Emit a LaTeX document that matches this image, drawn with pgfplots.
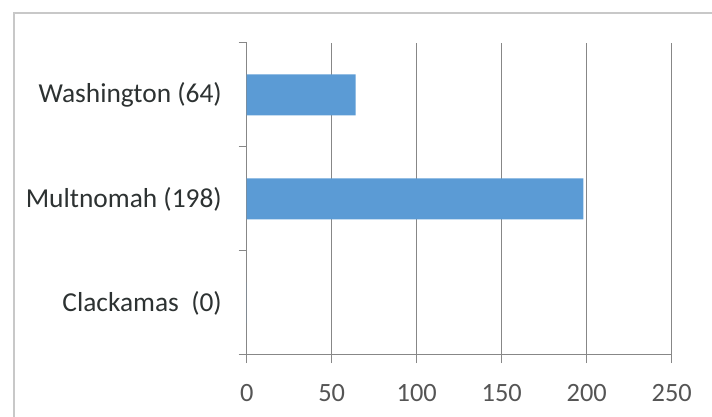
\documentclass[border=0pt]{standalone}
\usepackage{pgfplots}
\pgfplotsset{compat=1.18}
\usepackage{fontspec}
\setmainfont{Carlito}
\definecolor{barblue}{RGB}{91,155,213}
\definecolor{gridgray}{RGB}{135,135,135}
\definecolor{labeltext}{RGB}{45,50,50}
\definecolor{ticktext}{RGB}{85,85,85}
\definecolor{framegray}{RGB}{200,200,200}
\begin{document}
\begin{tikzpicture}
\useasboundingbox (0,0) rectangle (712bp,417bp);
% chart frame (runs off the right and bottom of the scan)
\draw[framegray, line width=2bp] (14bp,-5bp) -- (14bp,404bp) -- (720bp,404bp);
\begin{axis}[
    at={(246.7bp,62bp)}, anchor=south west,
    scale only axis, width=425bp, height=312bp,
    xbar, bar width=41bp,
    xmin=0, xmax=250, ymin=-0.5, ymax=2.5,
    xtick={0,50,...,250},
    ytick={0,1,2},
    yticklabels={Clackamas\ \ (0), Multnomah (198), Washington (64)},
    minor ytick={-0.5,0.5,1.5,2.5},
    axis x line*=bottom, axis y line*=left,
    axis line style={-, gridgray, line width=1bp},
    tick align=outside,
    major tick length=8bp, minor tick length=8bp,
    major x tick style={gridgray, line width=1bp},
    major y tick style={draw=none},
    minor y tick style={gridgray, line width=1bp},
    xmajorgrids, grid style={gridgray, line width=1bp},
    /pgf/number format/assume math mode=true,
    xticklabel style={font=\fontsize{26.5}{30}\selectfont, text=ticktext, inner sep=0pt, anchor=north, yshift=-21bp},
    yticklabel style={font=\fontsize{27.5}{31}\selectfont, text=labeltext, inner sep=0pt, anchor=east, xshift=-16.7bp},
]
\addplot[fill=barblue, draw=none] coordinates {
    (0,0) (198,1) (64,2)
};
\end{axis}
\end{tikzpicture}
\end{document}
